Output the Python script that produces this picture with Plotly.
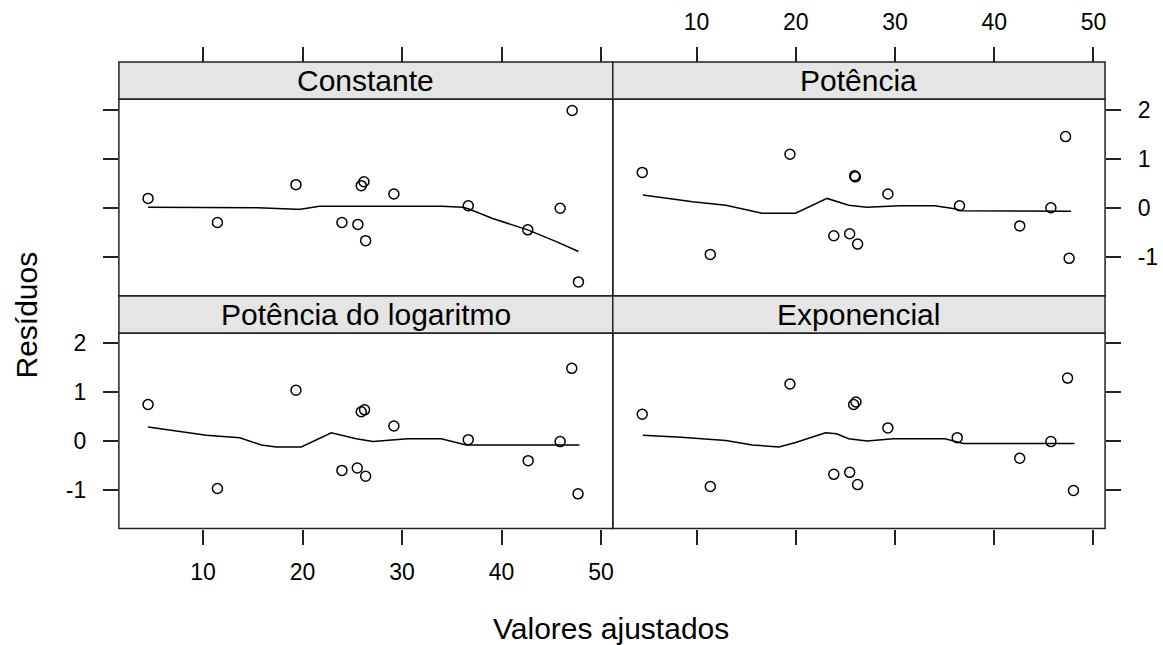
import plotly.graph_objects as go

# ---------------- data ----------------
panel_titles = ["Constante", "Potência", "Potência do logaritmo", "Exponencial"]

fit_const = [4.48, 11.45, 19.34, 23.96, 25.56, 25.90, 26.17, 26.34, 29.18, 36.65, 42.63, 45.88, 47.09, 47.72]
res_const = [0.19, -0.30, 0.47, -0.30, -0.34, 0.45, 0.53, -0.67, 0.28, 0.04, -0.45, -0.01, 1.98, -1.51]
smx_const = [4.48, 11.45, 15.5, 19.34, 19.8, 21.7, 23.96, 25.56, 26.3, 29.18, 34.0, 36.1, 36.65, 39.1, 42.63, 45.5, 47.72]
smy_const = [0.01, 0.01, 0.00, -0.03, -0.03, 0.03, 0.03, 0.03, 0.03, 0.03, 0.03, 0.01, -0.02, -0.22, -0.45, -0.69, -0.89]

fit_pot = [4.52, 11.38, 19.41, 23.83, 25.43, 25.93, 26.00, 26.23, 29.28, 36.50, 42.57, 45.71, 47.19, 47.55]
res_pot = [0.72, -0.95, 1.09, -0.57, -0.53, 0.65, 0.63, -0.74, 0.28, 0.04, -0.37, 0.00, 1.45, -1.03]
smx_pot = [4.58, 9.6, 12.95, 16.6, 19.98, 23.15, 25.33, 27.17, 30.5, 34.0, 36.0, 36.7, 47.75]
smy_pot = [0.26, 0.12, 0.05, -0.11, -0.11, 0.19, 0.05, 0.01, 0.04, 0.04, -0.02, -0.06, -0.07]

fit_log = [4.48, 11.45, 19.34, 23.96, 25.50, 25.90, 26.23, 26.34, 29.18, 36.65, 42.67, 45.88, 47.05, 47.68]
res_log = [0.75, -0.97, 1.04, -0.60, -0.55, 0.60, 0.64, -0.72, 0.31, 0.03, -0.40, -0.01, 1.49, -1.08]
smx_log = [4.48, 10.34, 13.7, 15.86, 17.37, 19.88, 22.89, 25.4, 27.07, 30.58, 33.93, 36.44, 47.82]
smy_log = [0.29, 0.12, 0.07, -0.08, -0.12, -0.12, 0.17, 0.05, -0.01, 0.05, 0.05, -0.08, -0.08]

fit_exp = [4.52, 11.38, 19.41, 23.83, 25.43, 25.83, 26.06, 26.23, 29.28, 36.27, 42.57, 45.71, 47.39, 47.99]
res_exp = [0.55, -0.93, 1.17, -0.68, -0.64, 0.75, 0.80, -0.89, 0.27, 0.07, -0.35, -0.01, 1.29, -1.01]
smx_exp = [4.58, 8.43, 12.95, 15.62, 18.3, 19.98, 22.99, 24.1, 25.33, 27.17, 29.85, 35.04, 36.88, 48.09]
smy_exp = [0.12, 0.08, 0.01, -0.08, -0.12, -0.03, 0.17, 0.15, 0.05, 0.00, 0.05, 0.05, -0.05, -0.05]

x_ticks = [10, 20, 30, 40, 50]
x_ticklabels = ["10", "20", "30", "40", "50"]
y_ticks = [-1, 0, 1, 2]
y_ticklabels = ["-1", "0", "1", "2"]
x_title = "Valores ajustados"
y_title = "Resíduos"

# ---------------- layout geometry ----------------
W, H = 1163, 645
def px(x): return x / W
def py(y): return 1 - y / H

XL = [px(119), px(613.3)]
XR = [px(613.3), px(1106)]
YT = [py(294), py(96.7)]
YB = [py(528), py(331.7)]
STRIP_T = [py(96.7), py(59.3)]
STRIP_B = [py(331.7), py(294)]

XRANGE = [1.55, 51.17]
YRANGE = [-1.79, 2.21]

FONT = "Liberation Sans, Arial, sans-serif"
TICKFONT = dict(family=FONT, size=23, color="black")

panels = [
    (fit_const, res_const, smx_const, smy_const, "x", "y"),
    (fit_pot, res_pot, smx_pot, smy_pot, "x2", "y2"),
    (fit_log, res_log, smx_log, smy_log, "x3", "y3"),
    (fit_exp, res_exp, smx_exp, smy_exp, "x4", "y4"),
]

fig = go.Figure()
for fx, fy, sx, sy, xa, ya in panels:
    fig.add_trace(go.Scatter(x=sx, y=sy, mode="lines", xaxis=xa, yaxis=ya,
                             line=dict(color="black", width=1.5), showlegend=False,
                             hoverinfo="skip"))
    fig.add_trace(go.Scatter(x=fx, y=fy, mode="markers", xaxis=xa, yaxis=ya,
                             marker=dict(symbol="circle-open", size=10, color="black",
                                         line=dict(width=1.5, color="black")),
                             showlegend=False))

common_x = dict(range=XRANGE, tickmode="array", tickvals=x_ticks, ticktext=x_ticklabels,
                ticks="outside", ticklen=15, tickwidth=1.5,
                tickcolor="#222", showgrid=False, zeroline=False, showline=False,
                tickfont=TICKFONT, ticklabelstandoff=8)
common_y = dict(range=YRANGE, tickmode="array", tickvals=y_ticks, ticktext=y_ticklabels,
                ticks="outside", ticklen=15, tickwidth=1.5,
                tickcolor="#222", showgrid=False, zeroline=False, showline=False,
                tickfont=TICKFONT, ticklabelstandoff=12)

fig.update_layout(
    width=W, height=H,
    margin=dict(l=0, r=0, t=0, b=0),
    paper_bgcolor="white", plot_bgcolor="white",
    xaxis=dict(domain=XL, anchor="free", position=STRIP_T[1], side="top",
               showticklabels=False, **common_x),
    xaxis2=dict(domain=XR, anchor="free", position=STRIP_T[1], side="top",
                showticklabels=True, **common_x),
    xaxis3=dict(domain=XL, anchor="y3", side="bottom", showticklabels=True, **common_x),
    xaxis4=dict(domain=XR, anchor="y4", side="bottom", showticklabels=False, **common_x),
    yaxis=dict(domain=YT, anchor="x", side="left", showticklabels=False, **common_y),
    yaxis2=dict(domain=YT, anchor="x2", side="right", showticklabels=True, **common_y),
    yaxis3=dict(domain=YB, anchor="x3", side="left", showticklabels=True, **common_y),
    yaxis4=dict(domain=YB, anchor="x4", side="right", showticklabels=False, **common_y),
)

shapes = []
annotations = []
strip_specs = [(XL, STRIP_T, YT, panel_titles[0]), (XR, STRIP_T, YT, panel_titles[1]),
               (XL, STRIP_B, YB, panel_titles[2]), (XR, STRIP_B, YB, panel_titles[3])]
for xd, sd, yd, title in strip_specs:
    shapes.append(dict(type="rect", xref="paper", yref="paper", x0=xd[0], x1=xd[1],
                       y0=sd[0], y1=sd[1], fillcolor="#e5e5e5",
                       line=dict(color="#222", width=1.5), layer="below"))
    shapes.append(dict(type="rect", xref="paper", yref="paper", x0=xd[0], x1=xd[1],
                       y0=yd[0], y1=yd[1], fillcolor="rgba(0,0,0,0)",
                       line=dict(color="#222", width=1.5)))
    annotations.append(dict(text=title, xref="paper", yref="paper",
                            x=(xd[0] + xd[1]) / 2, y=(sd[0] + sd[1]) / 2,
                            xanchor="center", yanchor="middle", showarrow=False,
                            font=dict(family=FONT, size=30, color="black")))

annotations.append(dict(text=x_title, xref="paper", yref="paper", x=px(612), y=py(628),
                        xanchor="center", yanchor="middle", showarrow=False,
                        font=dict(family=FONT, size=30, color="black")))
annotations.append(dict(text=y_title, xref="paper", yref="paper", x=px(27), y=py(313),
                        xanchor="center", yanchor="middle", showarrow=False, textangle=-90,
                        font=dict(family=FONT, size=30, color="black")))

fig.update_layout(shapes=shapes, annotations=annotations)
fig.write_html("out.html")
